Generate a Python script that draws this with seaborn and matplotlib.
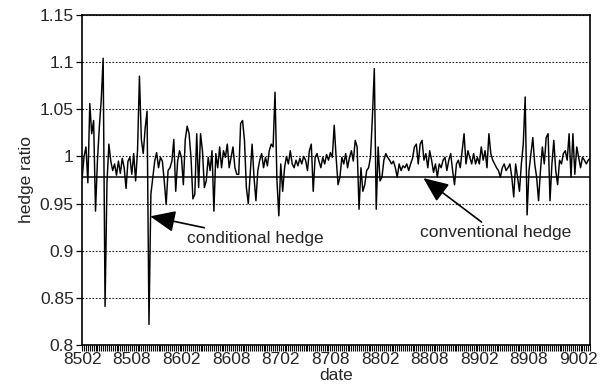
import numpy as np
import pandas as pd
import matplotlib
matplotlib.use("Agg")
import matplotlib.pyplot as plt
import seaborn as sns

# weekly conditional hedge ratio, 8502 .. ~9003
hedge = [
    0.977, 1.000, 1.010, 0.972, 1.056, 1.024, 1.038, 0.942, 0.995, 1.031,
    1.060, 1.104, 0.841, 0.972, 1.013, 0.995, 0.985, 0.992, 0.980, 0.995,
    0.982, 0.998, 0.988, 0.966, 0.995, 0.999, 0.981, 1.003, 0.974, 1.006,
    1.085, 1.018, 1.003, 1.030, 1.048, 0.822, 0.960, 0.978, 0.995, 1.004,
    0.988, 0.999, 0.995, 0.974, 0.949, 0.985, 0.988, 0.995, 1.018, 0.963,
    0.995, 1.006, 0.999, 0.970, 1.018, 1.032, 1.024, 0.999, 0.955, 0.960,
    1.024, 0.967, 1.024, 1.006, 0.967, 0.974, 0.999, 0.985, 1.006, 0.942,
    1.003, 0.988, 1.010, 0.988, 1.006, 0.999, 1.013, 0.988, 0.999, 1.010,
    0.988, 0.981, 0.981, 1.035, 1.038, 1.017, 0.967, 0.950, 0.981, 1.013,
    0.978, 0.953, 0.985, 0.996, 1.003, 0.988, 0.999, 0.990, 1.006, 1.013,
    1.010, 1.068, 0.975, 0.937, 0.992, 0.963, 0.988, 1.000, 0.992, 1.006,
    0.992, 0.988, 0.996, 0.990, 0.998, 0.992, 1.000, 0.996, 0.985, 1.006,
    1.013, 0.963, 0.999, 1.003, 0.995, 0.988, 0.999, 0.992, 1.002, 0.996,
    1.004, 0.999, 1.033, 0.999, 0.970, 0.978, 0.999, 0.992, 1.003, 0.988,
    0.999, 1.006, 0.995, 1.017, 1.010, 0.944, 0.988, 0.963, 0.970, 0.985,
    0.988, 0.999, 1.042, 1.093, 0.944, 1.010, 0.974, 0.978, 0.996, 1.003,
    0.999, 0.996, 0.992, 0.995, 0.988, 0.978, 0.992, 0.985, 0.990, 0.988,
    0.992, 0.985, 0.992, 0.998, 1.010, 1.013, 0.992, 1.013, 1.017, 0.996,
    1.003, 0.988, 1.006, 0.996, 0.983, 0.992, 0.978, 0.992, 0.988, 0.996,
    0.999, 0.985, 0.996, 1.003, 0.985, 0.970, 0.992, 0.996, 0.988, 1.006,
    1.024, 0.992, 1.006, 0.999, 0.992, 1.003, 0.992, 0.999, 0.992, 1.010,
    0.996, 1.006, 0.988, 1.024, 1.003, 0.996, 0.992, 0.988, 0.985, 0.978,
    0.988, 0.992, 0.985, 0.988, 0.992, 0.978, 0.957, 0.992, 0.978, 0.963,
    0.992, 1.013, 1.063, 0.938, 0.985, 1.003, 1.020, 0.992, 0.978, 0.953,
    0.985, 1.010, 0.992, 1.020, 1.024, 0.953, 0.992, 1.017, 0.985, 0.970,
    0.996, 0.992, 1.003, 1.006, 0.996, 1.024, 0.978, 1.024, 0.981, 1.010,
    0.999, 0.988, 0.999, 0.996, 0.992, 0.996, 0.998,
]
conventional = 0.978

date_labels = ["8502", "8508", "8602", "8608", "8702", "8708",
               "8802", "8808", "8902", "8908", "9002"]
label_step = 26  # weeks between labels
y_ticks = [0.8, 0.85, 0.9, 0.95, 1.0, 1.05, 1.1, 1.15]
y_ticklabels = ["0.8", "0.85", "0.9", "0.95", "1", "1.05", "1.1", "1.15"]

df = pd.DataFrame({"week": np.arange(len(hedge)), "hedge": hedge})

sns.set_theme(style="white")
plt.rcParams["font.family"] = ["Liberation Sans", "DejaVu Sans"]

fig = plt.figure(figsize=(6.04, 3.90), dpi=100)
ax = fig.add_axes([0.136, 0.115, 0.841, 0.847])

sns.lineplot(data=df, x="week", y="hedge", color="black", lw=1.05, ax=ax)
ax.axhline(conventional, color="black", lw=1.1)

ax.set_xlim(0, len(hedge) - 1)
ax.set_ylim(0.8, 1.15)
ax.set_yticks(y_ticks)
ax.set_yticklabels(y_ticklabels, fontsize=12.5)
ax.set_xticks([i * label_step for i in range(len(date_labels))])
ax.set_xticklabels(date_labels, fontsize=12.5)
ax.set_xticks(np.arange(len(hedge)), minor=True)
ax.tick_params(axis="x", which="minor", direction="out", length=4, width=0.8,
               color="black", bottom=True)
ax.tick_params(axis="x", which="major", direction="out", length=4, width=0.8,
               color="black", bottom=True, pad=1)
ax.tick_params(axis="y", direction="out", length=4, width=0.9, color="black",
               left=True, pad=2)

ax.yaxis.grid(True, linestyle=(0, (1.5, 1.5)), color="#222222", lw=0.8)
ax.xaxis.grid(False)
for s in ax.spines.values():
    s.set_color("black")
    s.set_linewidth(1.2)

ax.set_xlabel("date", fontsize=12.5, labelpad=1)
ax.set_ylabel("hedge ratio", fontsize=12.5, labelpad=4)

arrow = dict(arrowstyle="-|>,head_length=0.7,head_width=0.3", color="black",
             lw=1.2, mutation_scale=22, shrinkA=0, shrinkB=0)
ax.annotate("conditional hedge", xy=(35.6, 0.9365), xytext=(55, 0.913),
            fontsize=12.5, va="center", ha="left", arrowprops=arrow)
ax.annotate("conventional hedge", xy=(178.7, 0.977), xytext=(177, 0.919),
            fontsize=12.5, va="center", ha="left", arrowprops=arrow)

fig.savefig("out.png", dpi=100)
